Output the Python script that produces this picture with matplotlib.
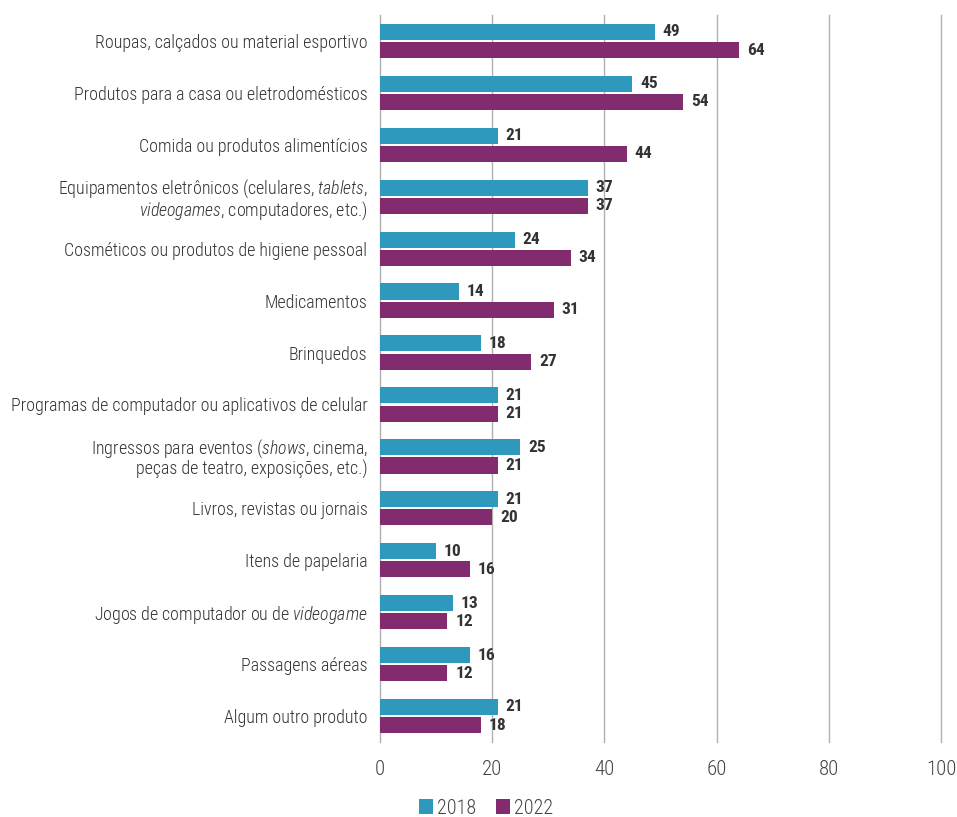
import matplotlib.pyplot as plt
import numpy as np

plt.rcParams['font.family'] = ['Roboto Condensed', 'DejaVu Sans']
plt.rcParams['mathtext.fontset'] = 'custom'
plt.rcParams['mathtext.rm'] = 'Roboto Condensed:light'
plt.rcParams['mathtext.it'] = 'Roboto Condensed:italic:light'

categories = [
    'Roupas, calçados ou material esportivo',
    'Produtos para a casa ou eletrodomésticos',
    'Comida ou produtos alimentícios',
    'Equipamentos eletrônicos (celulares, $\\it{tablets}$,\n$\\it{videogames}$, computadores, etc.)',
    'Cosméticos ou produtos de higiene pessoal',
    'Medicamentos',
    'Brinquedos',
    'Programas de computador ou aplicativos de celular',
    'Ingressos para eventos ($\\it{shows}$, cinema,\npeças de teatro, exposições, etc.)',
    'Livros, revistas ou jornais',
    'Itens de papelaria',
    'Jogos de computador ou de $\\it{videogame}$',
    'Passagens aéreas',
    'Algum outro produto',
]
v2018 = [49, 45, 21, 37, 24, 14, 18, 21, 25, 21, 10, 13, 16, 21]
v2022 = [64, 54, 44, 37, 34, 31, 27, 21, 21, 20, 16, 12, 12, 18]
series = ['2018', '2022']
colors = ['#2f98bd', '#822c6f']

fig = plt.figure(figsize=(9.57, 8.17), dpi=100)
ax = fig.add_axes([380 / 957, 75 / 817, 561 / 957, 727 / 817])

y = np.arange(len(categories))
h = 0.31
off = 0.175
for vals, sign, lab, c in [(v2018, -1, series[0], colors[0]), (v2022, 1, series[1], colors[1])]:
    bars = ax.barh(y + sign * off, vals, height=h, color=c, label=lab, zorder=3)
    for b, v in zip(bars, vals):
        ax.text(b.get_width() + 1.4, b.get_y() + b.get_height() / 2, str(v),
                va='center', ha='left', fontsize=12.5, fontweight='semibold', color='#333333')

ax.set_xlim(0, 100)
ax.set_ylim(len(categories) - 0.5, -0.5)
ax.set_xticks(range(0, 101, 20))
ax.set_yticks(y)
ax.set_yticklabels(categories, fontsize=12.9, color='#333333', linespacing=0.95,
                   fontweight='light')
for t in ax.get_xticklabels():
    t.set_fontweight('light')
ax.tick_params(axis='y', length=0, pad=9)
ax.tick_params(axis='x', length=0, labelsize=15, labelcolor='#444444', pad=13)
ax.grid(axis='x', color='#b0b0b0', linewidth=1, zorder=0)
for gl in ax.get_xgridlines():
    gl.set_clip_on(False)
for s in ax.spines.values():
    s.set_visible(False)

leg = fig.legend(loc='center', bbox_to_anchor=(486 / 957, 1 - 808 / 817), ncol=2, frameon=False,
                 handlelength=0.7, handleheight=0.7, handletextpad=0.2,
                 columnspacing=1.0, labelcolor='#444444', prop={'weight': 'light', 'size': 14.5})

fig.savefig('out.png', dpi=100)
